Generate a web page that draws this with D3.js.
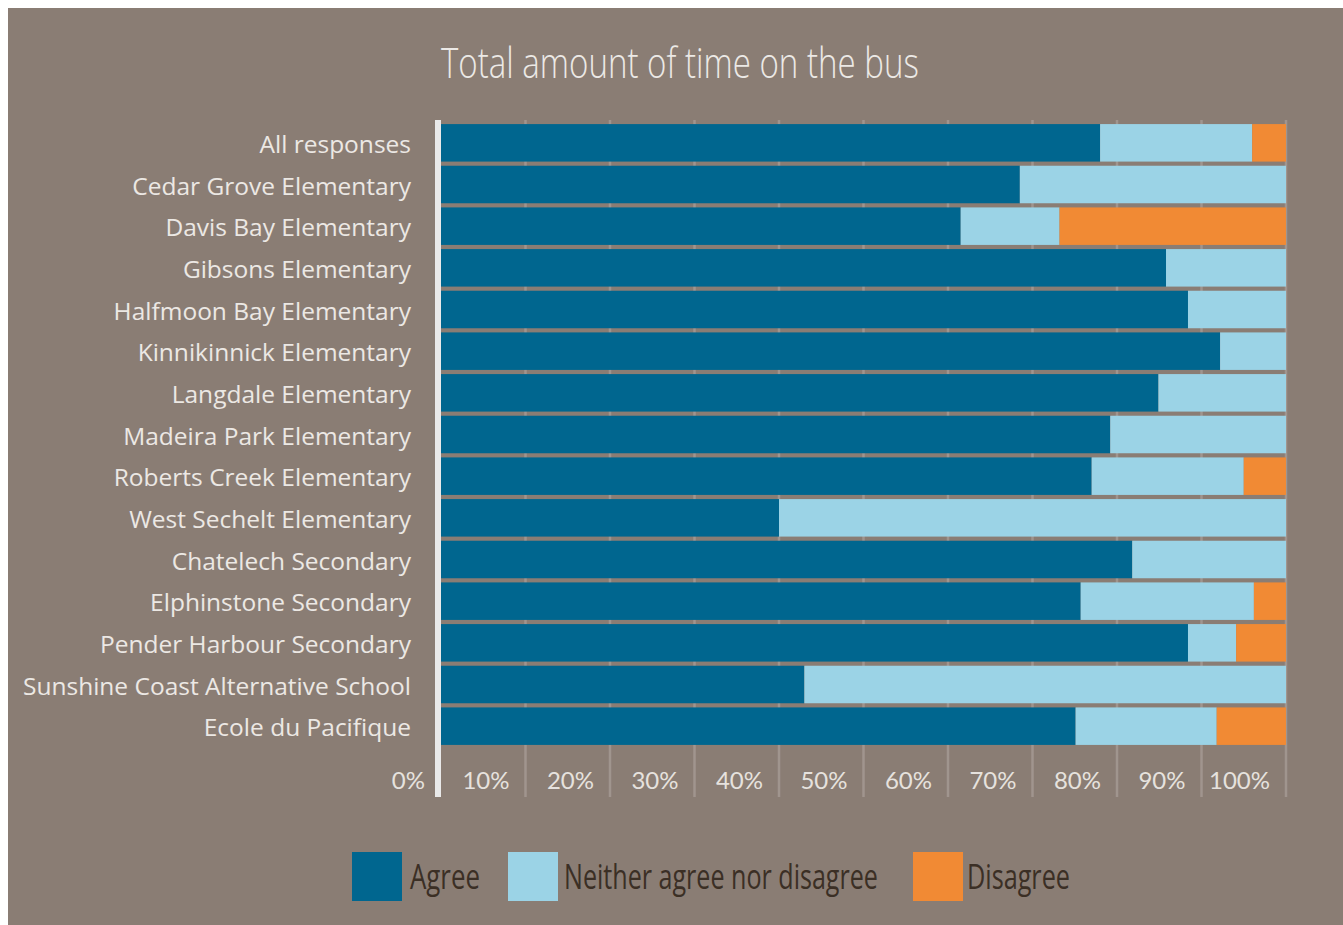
<!DOCTYPE html>
<meta charset="utf-8">
<style>
    body { margin: 0; background: #fff; }
    svg { display: block; }
    .cat text { font: 24.5px "Open Sans", sans-serif; fill: #ece8e4; }
    .tick-label { font: 24px Lato, sans-serif; fill: #e6e2de; }
</style>
<script src="https://cdn.jsdelivr.net/npm/d3@7"></script>
<body>
<svg></svg>
</body>
<script>

    var schools = ['All responses', 'Cedar Grove Elementary', 'Davis Bay Elementary', 'Gibsons Elementary',
        'Halfmoon Bay Elementary', 'Kinnikinnick Elementary', 'Langdale Elementary', 'Madeira Park Elementary',
        'Roberts Creek Elementary', 'West Sechelt Elementary', 'Chatelech Secondary', 'Elphinstone Secondary',
        'Pender Harbour Secondary', 'Sunshine Coast Alternative School', 'Ecole du Pacifique'];
    var agree    = [78.0, 68.5, 61.5, 85.8, 88.4, 92.2, 84.9, 79.2, 77.0, 40.0, 81.8, 75.7, 88.4, 43.0, 75.1];
    var neither  = [18.0, 31.5, 11.7, 14.2, 11.6,  7.8, 15.1, 20.8, 18.0, 60.0, 18.2, 20.5,  5.7, 57.0, 16.7];
    var disagree = [ 4.0,  0.0, 26.8,  0.0,  0.0,  0.0,  0.0,  0.0,  5.0,  0.0,  0.0,  3.8,  5.9,  0.0,  8.2];
    var seriesNames = ['Agree', 'Neither agree nor disagree', 'Disagree'];
    var ticks = [0, 10, 20, 30, 40, 50, 60, 70, 80, 90, 100];

    var colors = ['#00668f', '#9bd3e6', '#f18a34'];

    var W = 1343, H = 925;
    var svg = d3.select('svg').attr('width', W).attr('height', H);

    svg.append('rect')
        .attr('x', 8).attr('y', 8)
        .attr('width', W - 8).attr('height', H - 8)
        .attr('fill', '#8a7d74');

    var x = d3.scaleLinear().domain([0, 100]).range([441, 1286]);
    var y = d3.scaleBand().domain(schools).range([122, 747]).paddingInner(0.1).paddingOuter(0.05);

    // squeeze a text horizontally to a given width (the original uses a condensed face)
    function squeeze(sel, left, base, width) {
        sel.each(function () {
            var t = d3.select(this);
            var w = this.getComputedTextLength();
            var sx = width / w;
            t.attr('transform', 'translate(' + left + ',' + base + ') scale(' + sx + ',1)');
        });
    }

    // title
    svg.append('text')
        .style('font', '300 42px "Open Sans", sans-serif')
        .style('fill', '#ece9e6')
        .text('Total amount of time on the bus')
        .call(squeeze, 441, 78, 478);

    // grid lines
    svg.append('g').selectAll('line')
        .data(ticks.slice(1))
        .join('line')
        .attr('x1', function (d) { return x(d); })
        .attr('x2', function (d) { return x(d); })
        .attr('y1', 120).attr('y2', 797)
        .attr('stroke', '#a0958e')
        .attr('stroke-width', 2.5);

    // stacked bars
    var rows = schools.map(function (s, i) {
        return { school: s, Agree: agree[i], 'Neither agree nor disagree': neither[i], Disagree: disagree[i] };
    });
    var stack = d3.stack().keys(seriesNames)(rows);

    svg.append('g').selectAll('g')
        .data(stack)
        .join('g')
        .attr('fill', function (d, i) { return colors[i]; })
        .selectAll('rect')
        .data(function (d) { return d; })
        .join('rect')
        .attr('x', function (d) { return x(d[0]); })
        .attr('width', function (d) { return x(d[1]) - x(d[0]); })
        .attr('y', function (d) { return y(d.data.school); })
        .attr('height', y.bandwidth());

    // axis line
    svg.append('rect')
        .attr('x', 435).attr('y', 120)
        .attr('width', 6).attr('height', 677)
        .attr('fill', '#e9e9e9');

    // category labels
    svg.append('g').attr('class', 'cat').selectAll('text')
        .data(schools)
        .join('text')
        .attr('x', 411)
        .attr('y', function (d) { return y(d) + y.bandwidth() / 2; })
        .attr('dy', '0.42em')
        .attr('text-anchor', 'end')
        .text(function (d) { return d; });

    // tick labels
    svg.append('g').selectAll('text')
        .data(ticks)
        .join('text')
        .attr('class', 'tick-label')
        .attr('x', function (d) { return x(d) - 16; })
        .attr('y', 789)
        .attr('text-anchor', 'end')
        .text(function (d) { return d + '%'; });

    // legend
    var legendPos = [352, 508, 913];
    var legendGap = [8, 6, 4];
    var legendW = [70, 314, 103];
    var lg = svg.append('g').selectAll('g')
        .data(seriesNames)
        .join('g')
        .attr('transform', function (d, i) { return 'translate(' + legendPos[i] + ',852)'; });
    lg.append('rect')
        .attr('width', 50).attr('height', 49)
        .attr('fill', function (d, i) { return colors[i]; });
    lg.append('text')
        .style('font', '34px "Open Sans", sans-serif')
        .style('fill', '#3b2f25')
        .text(function (d) { return d; })
        .each(function (d, i) {
            d3.select(this).call(squeeze, 50 + legendGap[i], 37, legendW[i]);
        });

</script>
</html>
